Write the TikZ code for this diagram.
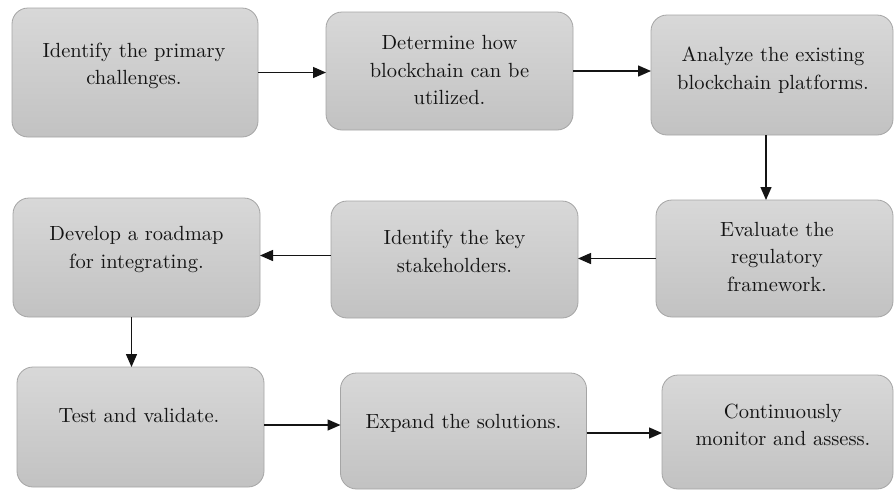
\documentclass[tikz,border=0pt]{standalone}
\usepackage{fontspec}
\newfontfamily\lmten{lmroman10-regular.otf}
\usetikzlibrary{arrows.meta}
\definecolor{boxline}{RGB}{165,165,165}
\definecolor{boxtop}{RGB}{216,216,216}
\definecolor{boxbot}{RGB}{194,194,194}
\definecolor{ink}{RGB}{20,20,20}
\tikzset{
  box/.style={draw=boxline, line width=0.8pt, rounded corners=16pt,
    top color=boxtop, bottom color=boxbot, inner sep=0pt, outer sep=0pt},
  lbl/.style={align=center, font=\lmten\fontsize{20.5}{27.5}\selectfont, text=ink, inner sep=0pt},
  arr/.style={line width=1.4pt, draw=ink, -{Triangle[length=13pt,width=11pt]}}
}
\begin{document}
\begin{tikzpicture}[x=1pt,y=-1pt]
\useasboundingbox[fill=white] (0,0) rectangle (894,491);
% boxes
\node[box, minimum width=246pt, minimum height=129pt] (b1) at (135,72.5) {};
\node[box, minimum width=247pt, minimum height=118pt] (b2) at (449.5,71) {};
\node[box, minimum width=242pt, minimum height=120pt] (b3) at (772,75) {};
\node[box, minimum width=247pt, minimum height=119pt] (b4) at (136.5,257.5) {};
\node[box, minimum width=247pt, minimum height=117pt] (b5) at (454.5,259.5) {};
\node[box, minimum width=237pt, minimum height=117pt] (b6) at (774.5,258.5) {};
\node[box, minimum width=247pt, minimum height=120pt] (b7) at (140.5,427) {};
\node[box, minimum width=246pt, minimum height=116pt] (b8) at (463.5,431) {};
\node[box, minimum width=231pt, minimum height=114pt] (b9) at (777.5,432) {};
% labels
\node[lbl] (t1) at (134,66) {Identify the primary\\challenges.};
\node[lbl] (t2) at (449.5,70) {Determine how\\blockchain can be\\utilized.};
\node[lbl] (t3) at (773,70) {Analyze the existing\\blockchain platforms.};
\node[lbl] (t4) at (136.5,249.5) {Develop a roadmap\\for integrating.};
\node[lbl] (t5) at (454.5,251.5) {Identify the key\\stakeholders.};
\node[lbl] (t6) at (777,256.5) {Evaluate the\\regulatory\\framework.};
\node[lbl] (t7) at (139,415.5) {Test and validate.};
\node[lbl] (t8) at (463.5,423) {Expand the solutions.};
\node[lbl] (t9) at (783,425) {Continuously\\monitor and assess.};
% connectors
\draw[arr] (b1.east) -- (b1.east -| b2.west);
\draw[arr] (b2.east) -- (b2.east -| b3.west);
\draw[arr] ([xshift=-6pt]b3.south) -- ([xshift=-6pt]b3.south |- b6.north);
\draw[arr] (b6.west) -- (b6.west -| b5.east);
\draw[arr] ([yshift=4pt]b5.west) -- ([yshift=4pt]b5.west -| b4.east);
\draw[arr] ([xshift=-5pt]b4.south) -- ([xshift=-5pt]b4.south |- b7.north);
\draw[arr] ([yshift=2pt]b7.east) -- ([yshift=2pt]b7.east -| b8.west);
\draw[arr] ([yshift=-2pt]b8.east) -- ([yshift=-2pt]b8.east -| b9.west);
\end{tikzpicture}
\end{document}
